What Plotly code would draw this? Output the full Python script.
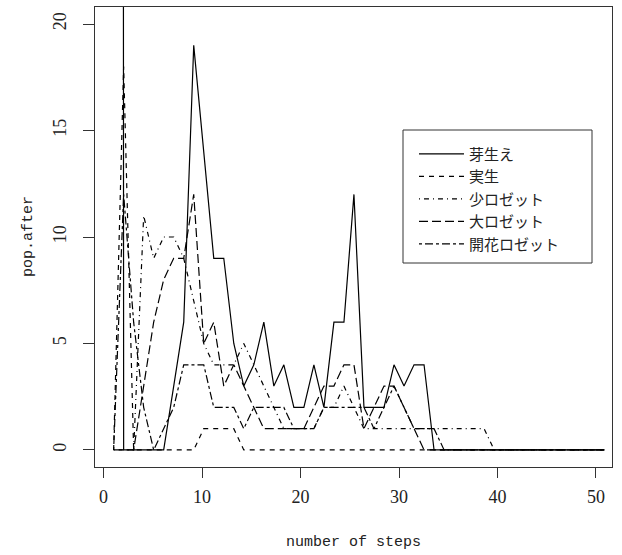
import plotly.graph_objects as go

steps = list(range(1, 51))

mebae = [1000, 0, 0, 0, 0, 0, 3, 6, 19, 14, 9, 9, 5, 3, 4, 6, 3, 4, 2, 2,
         4, 2, 6, 6, 12, 2, 2, 2, 4, 3, 4, 4, 0, 0, 0, 0, 0, 0, 0, 0,
         0, 0, 0, 0, 0, 0, 0, 0, 0, 0]
misho = [0, 18, 0, 0, 0, 0, 0, 0, 0, 1, 1, 1, 1, 0, 0, 0, 0, 0, 0, 0,
         0, 0, 0, 0, 0, 0, 0, 0, 0, 0, 0, 0, 0, 0, 0, 0, 0, 0, 0, 0,
         0, 0, 0, 0, 0, 0, 0, 0, 0, 0]
sho_rosette = [0, 0, 0, 11, 9, 10, 10, 9, 7, 5, 4, 4, 4, 5, 4, 3, 2, 1, 1, 1,
               1, 2, 2, 3, 2, 1, 1, 1, 1, 1, 1, 1, 1, 1, 1, 1, 1, 1, 0, 0,
               0, 0, 0, 0, 0, 0, 0, 0, 0, 0]
dai_rosette = [0, 0, 0, 3, 6, 8, 9, 9, 12, 5, 6, 3, 4, 3, 2, 1, 1, 1, 1, 1,
               2, 3, 3, 4, 4, 1, 2, 3, 3, 2, 1, 0, 0, 0, 0, 0, 0, 0, 0, 0,
               0, 0, 0, 0, 0, 0, 0, 0, 0, 0]
kaika_rosette = [0, 12, 6, 2, 0, 1, 2, 4, 4, 4, 2, 2, 2, 1, 2, 2, 2, 2, 1, 1,
                 1, 2, 2, 2, 2, 2, 1, 2, 3, 2, 1, 1, 1, 0, 0, 0, 0, 0, 0, 0,
                 0, 0, 0, 0, 0, 0, 0, 0, 0, 0]

names = ["芽生え", "実生", "少ロゼット", "大ロゼット", "開花ロゼット"]
series = [mebae, misho, sho_rosette, dai_rosette, kaika_rosette]
dashes = ["solid", "5px,5px", "1px,4px,5px,4px", "9px,4px", "3px,3px,8px,3px"]

x_tick_labels = [0, 10, 20, 30, 40, 50]
x_tick_scale = 0.9834          # tick unit spacing relative to step spacing in the picture
x_tick_pos = [t * x_tick_scale for t in x_tick_labels]
y_ticks = [0, 5, 10, 15, 20]

fig = go.Figure()
for name, ys, d in zip(names, series, dashes):
    fig.add_trace(go.Scatter(x=steps, y=ys, mode="lines", name=name,
                             line=dict(color="black", width=1.2, dash=d)))

ink = "#222"
axis_font = dict(family="Liberation Serif", size=18, color=ink)
title_font = dict(family="Liberation Mono", size=15, color=ink)

fig.update_layout(
    width=622, height=555,
    margin=dict(l=95, r=10, t=7, b=88, autoexpand=False),
    paper_bgcolor="white", plot_bgcolor="white",
    showlegend=True,
    legend=dict(x=0.617, y=0.716, xanchor="left", yanchor="top",
                borderwidth=0, bgcolor="rgba(0,0,0,0)",
                font=dict(family="Noto Sans CJK JP", size=15, color=ink),
                itemwidth=45, tracegroupgap=0),
    xaxis=dict(range=[-0.86, 50.77], tickvals=x_tick_pos,
               ticktext=[str(t) for t in x_tick_labels],
               ticks="outside", ticklen=10, tickcolor="#333", automargin=False,
               showgrid=False, zeroline=False, showline=True,
               linecolor="#333", mirror=True, tickfont=axis_font,
               ticklabelstandoff=3),
    yaxis=dict(range=[-0.8, 20.8], tickvals=y_ticks, ticks="outside", ticklen=11,
               tickcolor="#333", automargin=False,
               showgrid=False, zeroline=False, showline=True,
               linecolor="#333", mirror=True, tickfont=axis_font, tickangle=-90,
               ticklabelstandoff=10),
    shapes=[dict(type="rect", xref="paper", yref="paper",
                 x0=(403 - 95) / 517, x1=(592 - 95) / 517,
                 y0=(467 - 263) / 460, y1=(467 - 130) / 460,
                 line=dict(color="#333", width=1), fillcolor="rgba(0,0,0,0)")],
    annotations=[
        dict(text="number of steps", xref="paper", yref="paper", x=0.5, y=0,
             yshift=-75, showarrow=False, font=title_font,
             xanchor="center", yanchor="middle"),
        dict(text="pop.after", xref="paper", yref="paper", x=0, y=0.5,
             xshift=-67, textangle=-90, showarrow=False, font=title_font,
             xanchor="center", yanchor="middle"),
    ],
)

fig.write_html("out.html", config={"displayModeBar": False},
               post_script="document.body.style.margin='0';document.body.style.padding='0';")
